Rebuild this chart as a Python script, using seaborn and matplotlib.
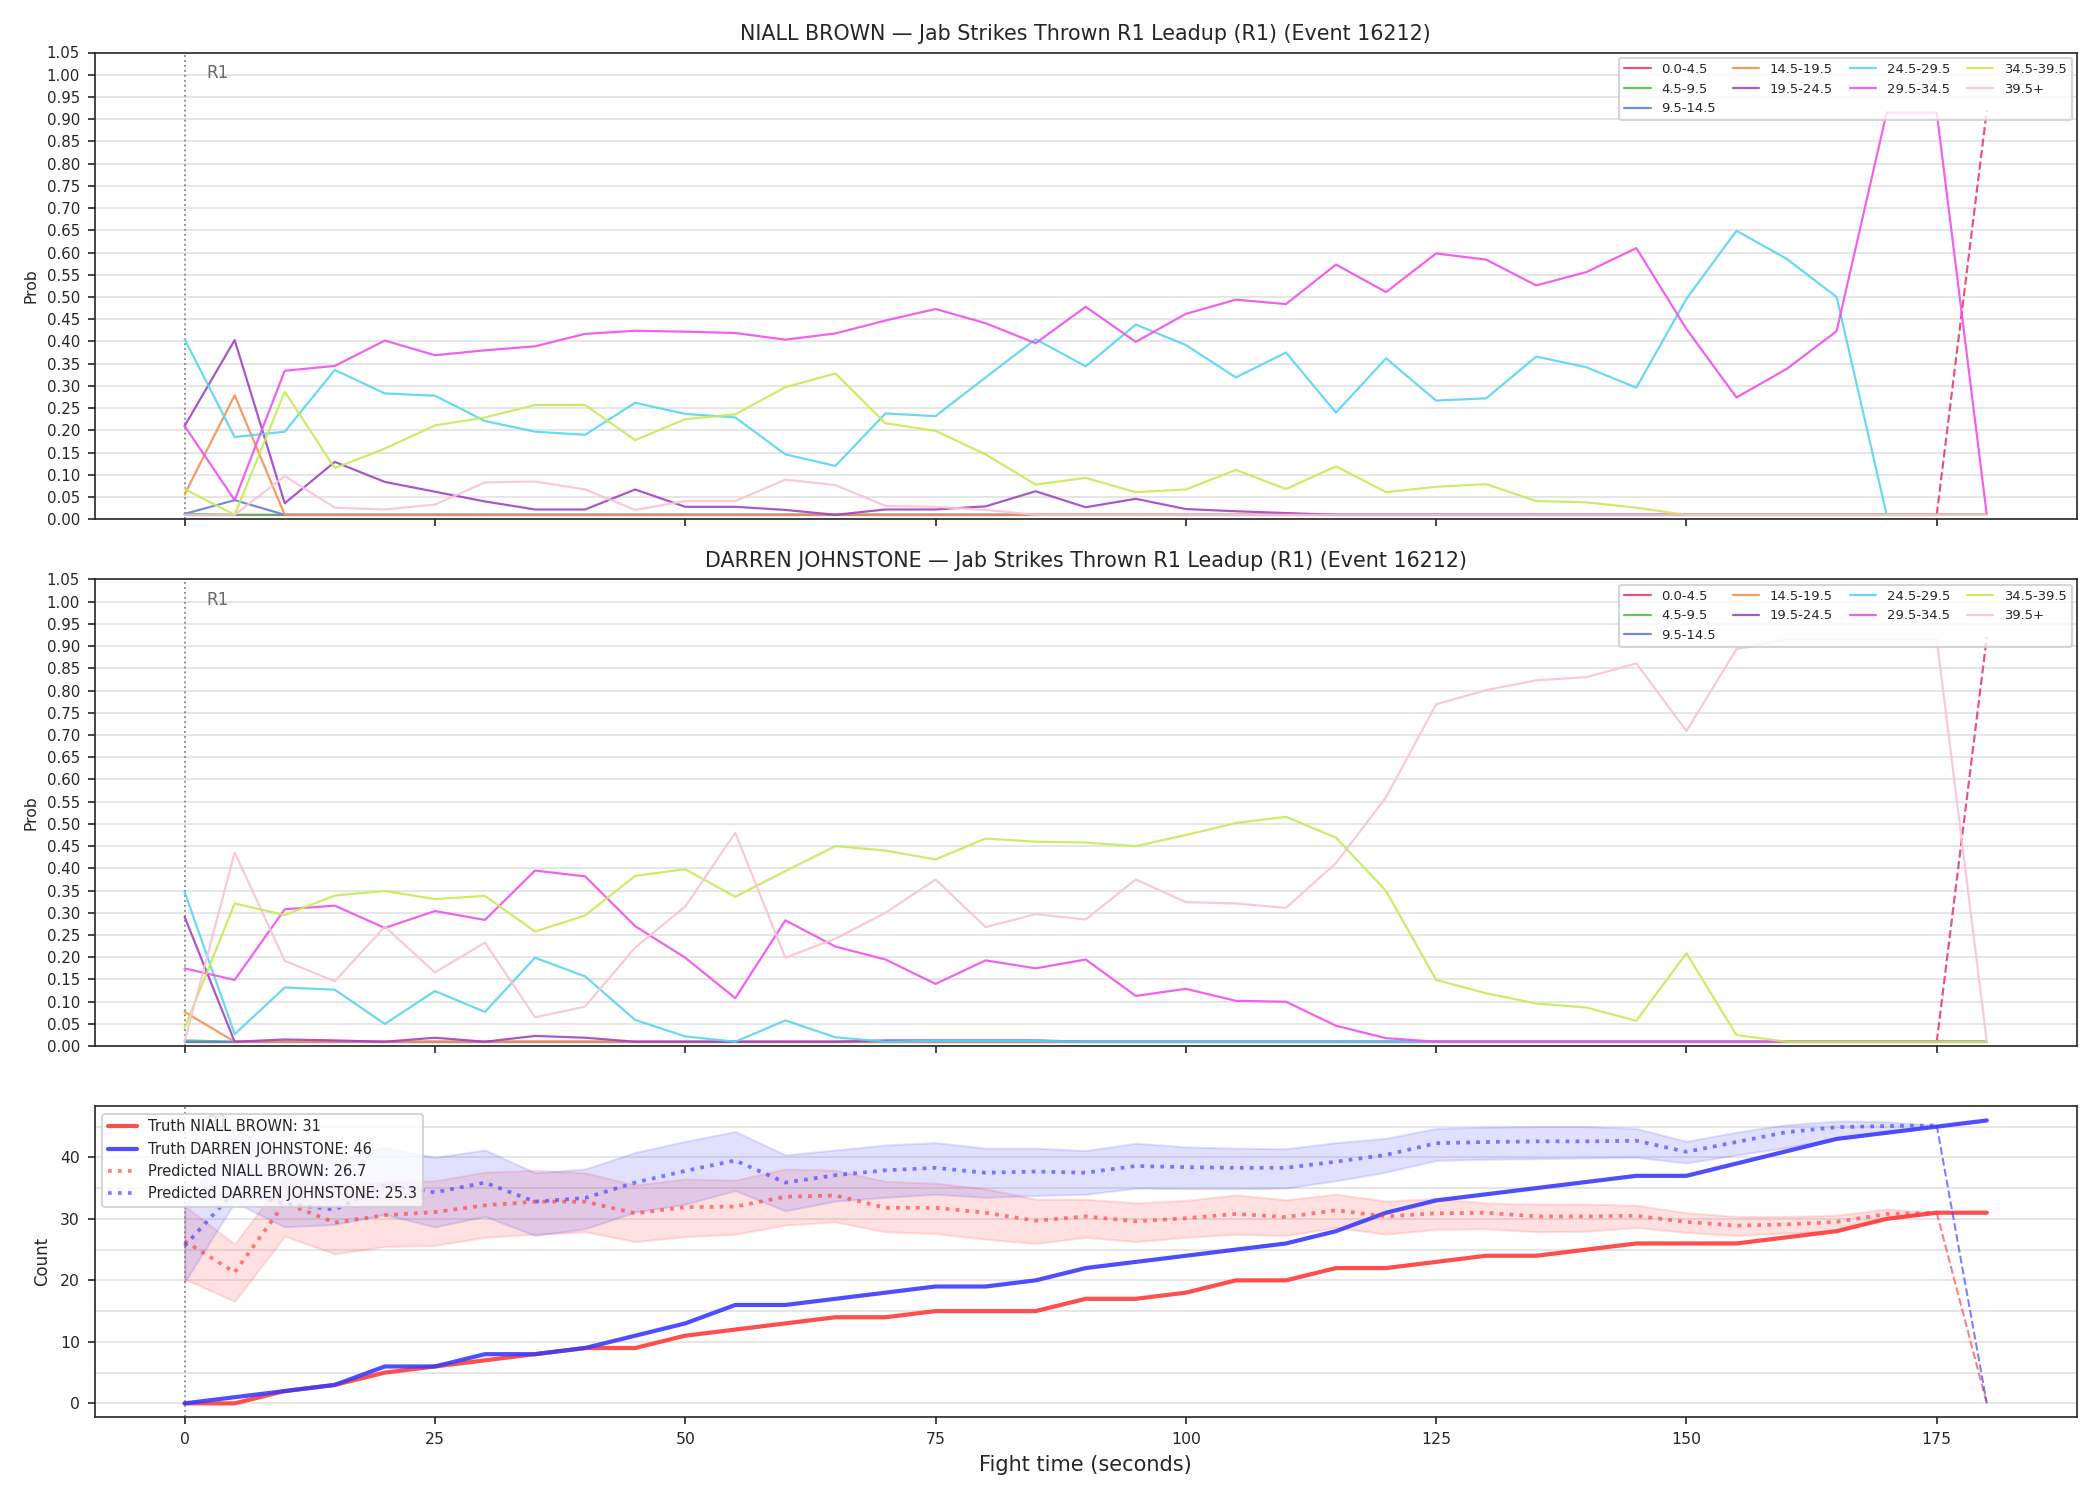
import numpy as np
import pandas as pd
import matplotlib
matplotlib.use("Agg")
import matplotlib.pyplot as plt
from matplotlib.ticker import MultipleLocator, FormatStrFormatter
import seaborn as sns

# ---------------- data ----------------
times = list(range(0, 185, 5))  # 0..180

bins = ["0.0-4.5", "4.5-9.5", "9.5-14.5", "14.5-19.5", "19.5-24.5",
        "24.5-29.5", "29.5-34.5", "34.5-39.5", "39.5+"]
bin_colors = ["#e8406a", "#55bb55", "#5f7fe0", "#f5914f", "#a142c2",
              "#55d6f2", "#f050ec", "#c6ec55", "#f9c3d6"]

F = 0.01
# NIALL BROWN probabilities
a_b0 = [F] * 36 + [0.92]
a_b1 = [0.012] + [F] * 36
a_b2 = [0.012, 0.043] + [F] * 35
a_b3 = [0.056, 0.279] + [F] * 35
a_b4 = [0.210, 0.403, 0.036, 0.129, 0.084, 0.062, 0.040, 0.022, 0.022, 0.067,
        0.028, 0.028, 0.021, 0.010, 0.022, 0.022, 0.029, 0.063, 0.027, 0.046,
        0.023, 0.018, 0.014] + [F] * 14
a_b5 = [0.405, 0.185, 0.197, 0.336, 0.283, 0.278, 0.221, 0.197, 0.190, 0.262,
        0.237, 0.229, 0.146, 0.120, 0.238, 0.232, 0.319, 0.405, 0.344, 0.438,
        0.392, 0.319, 0.375, 0.240, 0.362, 0.267, 0.272, 0.366, 0.342, 0.296,
        0.496, 0.649, 0.586, 0.500, 0.010, 0.010, 0.010]
a_b6 = [0.210, 0.043, 0.334, 0.345, 0.402, 0.369, 0.380, 0.389, 0.417, 0.424,
        0.422, 0.419, 0.404, 0.418, 0.447, 0.473, 0.441, 0.396, 0.478, 0.399,
        0.462, 0.494, 0.484, 0.573, 0.511, 0.598, 0.584, 0.526, 0.556, 0.610,
        0.428, 0.274, 0.338, 0.423, 0.915, 0.915, 0.010]
a_b7 = [0.068, 0.010, 0.287, 0.115, 0.159, 0.211, 0.229, 0.257, 0.257, 0.178,
        0.225, 0.236, 0.297, 0.328, 0.216, 0.199, 0.146, 0.078, 0.093, 0.061,
        0.067, 0.111, 0.068, 0.119, 0.061, 0.073, 0.079, 0.041, 0.038, 0.026] + [F] * 7
a_b8 = [0.010, 0.010, 0.097, 0.026, 0.022, 0.033, 0.083, 0.085, 0.067, 0.021,
        0.041, 0.041, 0.089, 0.077, 0.030, 0.028, 0.021] + [F] * 20

# DARREN JOHNSTONE probabilities
b_b0 = [F] * 36 + [0.92]
b_b1 = [0.013] + [F] * 36
b_b2 = [F] * 37
b_b3 = [0.077] + [F] * 36
b_b4 = [0.291, 0.010, 0.015, 0.013, 0.010, 0.019, 0.010, 0.023, 0.019, 0.010,
        0.010, 0.010, 0.010, 0.010, 0.013, 0.013, 0.013, 0.013] + [F] * 19
b_b5 = [0.347, 0.027, 0.132, 0.127, 0.050, 0.124, 0.077, 0.199, 0.157, 0.059,
        0.022, 0.010, 0.058, 0.020, 0.010, 0.012, 0.012, 0.012] + [F] * 19
b_b6 = [0.175, 0.149, 0.308, 0.316, 0.266, 0.304, 0.284, 0.395, 0.382, 0.270,
        0.199, 0.108, 0.283, 0.224, 0.195, 0.140, 0.193, 0.175, 0.195, 0.113,
        0.129, 0.102, 0.100, 0.046, 0.018] + [F] * 12
b_b7 = [0.041, 0.321, 0.295, 0.339, 0.349, 0.331, 0.338, 0.258, 0.294, 0.383,
        0.398, 0.336, 0.394, 0.450, 0.440, 0.420, 0.467, 0.460, 0.458, 0.450,
        0.475, 0.502, 0.516, 0.469, 0.349, 0.149, 0.119, 0.096, 0.087, 0.057,
        0.209, 0.025, 0.010, 0.010, 0.010, 0.010, 0.010]
b_b8 = [0.010, 0.436, 0.192, 0.146, 0.269, 0.166, 0.233, 0.065, 0.089, 0.222,
        0.314, 0.480, 0.199, 0.242, 0.300, 0.375, 0.268, 0.297, 0.285, 0.375,
        0.324, 0.321, 0.311, 0.412, 0.560, 0.769, 0.801, 0.823, 0.830, 0.861,
        0.709, 0.893, 0.915, 0.915, 0.915, 0.915, 0.010]

probs_a = [a_b0, a_b1, a_b2, a_b3, a_b4, a_b5, a_b6, a_b7, a_b8]
probs_b = [b_b0, b_b1, b_b2, b_b3, b_b4, b_b5, b_b6, b_b7, b_b8]

# counts
truth_a = [0, 0, 2, 3, 5, 6, 7, 8, 9, 9, 11, 12, 13, 14, 14, 15, 15, 15, 17, 17,
           18, 20, 20, 22, 22, 23, 24, 24, 25, 26, 26, 26, 27, 28, 30, 31, 31]
truth_b = [0, 1, 2, 3, 6, 6, 8, 8, 9, 11, 13, 16, 16, 17, 18, 19, 19, 20, 22, 23,
           24, 25, 26, 28, 31, 33, 34, 35, 36, 37, 37, 39, 41, 43, 44, 45, 46]
pred_a = [26.4, 21.3, 32.6, 29.4, 30.6, 31.1, 32.2, 32.8, 32.8, 30.9, 31.9, 32.0,
          33.6, 33.8, 31.8, 31.8, 31.0, 29.7, 30.4, 29.6, 30.1, 30.8, 30.3, 31.4,
          30.4, 30.9, 31.0, 30.4, 30.4, 30.5, 29.5, 28.9, 29.1, 29.5, 30.8, 31.0, 0.0]
pred_a_lo = [20.2, 16.6, 27.2, 24.3, 25.5, 25.7, 27.0, 27.5, 27.9, 26.3, 27.1, 27.5,
             29.0, 29.5, 27.9, 27.6, 26.7, 26.0, 27.0, 26.3, 27.0, 27.5, 27.3, 28.6,
             27.5, 28.3, 28.4, 27.9, 28.0, 28.6, 27.8, 27.3, 27.7, 28.0, 30.0, 31.0]
pred_a_hi = [32.1, 25.9, 36.8, 35.5, 36.0, 36.2, 37.6, 37.9, 37.5, 35.5, 36.5, 36.3,
             38.1, 37.9, 36.1, 35.8, 34.9, 33.2, 33.2, 32.6, 33.0, 33.9, 33.1, 34.0,
             32.9, 33.3, 32.6, 32.4, 32.4, 32.2, 31.0, 30.4, 30.4, 30.6, 31.6, 31.0]
pred_b = [25.6, 34.5, 32.5, 31.5, 35.5, 34.3, 35.9, 32.8, 33.4, 35.9, 37.8, 39.5,
          35.9, 37.1, 37.9, 38.3, 37.5, 37.7, 37.5, 38.6, 38.4, 38.3, 38.3, 39.3,
          40.4, 42.3, 42.5, 42.6, 42.6, 42.7, 40.9, 42.5, 44.1, 44.9, 45.1, 45.2, 0.0]
pred_b_lo = [19.7, 32.7, 28.7, 29.1, 30.7, 28.7, 30.4, 27.3, 28.4, 31.1, 32.4, 34.6,
             31.3, 32.9, 33.5, 34.0, 33.5, 33.8, 34.0, 35.0, 34.9, 34.9, 35.0, 36.2,
             37.6, 39.5, 39.7, 39.8, 39.9, 40.0, 39.1, 40.4, 41.6, 43.1, 44.1, 45.2]
pred_b_hi = [32.0, 44.6, 41.0, 39.5, 41.6, 40.0, 41.2, 37.5, 38.1, 40.8, 42.6, 44.2,
             40.4, 41.2, 42.0, 42.4, 41.5, 41.5, 41.1, 42.3, 41.7, 41.5, 41.4, 42.4,
             43.1, 44.7, 44.9, 45.0, 45.0, 44.7, 42.6, 44.1, 45.3, 45.9, 45.8, 45.2]

fighter_a = "NIALL BROWN"
fighter_b = "DARREN JOHNSTONE"
titles = [f"{fighter_a} \u2014 Jab Strikes Thrown R1 Leadup (R1) (Event 16212)",
          f"{fighter_b} \u2014 Jab Strikes Thrown R1 Leadup (R1) (Event 16212)"]
total_a, total_b = 31, 46
pred_total_a, pred_total_b = 26.7, 25.3

# ---------------- style ----------------
sns.set_style("ticks")
plt.rcParams["font.family"] = ["DejaVu Sans"]

fig, axes = plt.subplots(3, 1, figsize=(14, 10), dpi=150, sharex=True,
                         gridspec_kw={"height_ratios": [1.5, 1.5, 1.0]})
fig.subplots_adjust(left=0.045, right=0.989, top=0.965, bottom=0.055, hspace=0.145)

t = np.array(times)

def prob_panel(ax, probs, title):
    for i, (lab, col, vals) in enumerate(zip(bins, bin_colors, probs)):
        vals = np.array(vals)
        if i == 0:
            sns.lineplot(x=t[:-1], y=vals[:-1], ax=ax, color=col, linewidth=1.05,
                         alpha=0.9, label=lab, legend=False, zorder=2)
            sns.lineplot(x=t[-2:], y=vals[-2:], ax=ax, color=col, linewidth=1.05,
                         alpha=0.9, linestyle="--", legend=False, zorder=2)
        else:
            sns.lineplot(x=t, y=vals, ax=ax, color=col, linewidth=1.05,
                         alpha=0.9, label=lab, legend=False, zorder=2)
    ax.axvline(0, color="gray", linestyle=":", linewidth=0.9, alpha=0.9, zorder=1)
    ax.text(2.2, 0.975, "R1", transform=ax.get_xaxis_transform(), ha="left",
            va="top", fontsize=8, color="dimgray")
    ax.set_ylim(0, 1.05)
    ax.yaxis.set_major_locator(MultipleLocator(0.05))
    ax.yaxis.set_major_formatter(FormatStrFormatter("%.2f"))
    ax.grid(axis="y", color="#e2e2e2", linewidth=0.8)
    ax.set_axisbelow(True)
    ax.set_ylabel("Prob", fontsize=7.5)
    ax.set_xlabel("")
    ax.set_title(title, fontsize=9.9)
    ax.tick_params(axis="y", labelsize=7.2)
    hs, ls = ax.get_legend_handles_labels()
    ax.legend(hs, ls, ncol=4, loc="upper right", fontsize=6.3, framealpha=0.8,
              handlelength=2.0, columnspacing=1.3, borderaxespad=0.4)

prob_panel(axes[0], probs_a, titles[0])
prob_panel(axes[1], probs_b, titles[1])

# ---------------- counts panel ----------------
ax = axes[2]
red, blue = "#ff3b3b", "#3b3bff"
ta = t[:-1]
ax.fill_between(ta, pred_a_lo, pred_a_hi, color=red, alpha=0.15, zorder=1)
ax.fill_between(ta, pred_b_lo, pred_b_hi, color=blue, alpha=0.15, zorder=1)
sns.lineplot(x=t, y=truth_a, ax=ax, color=red, linewidth=2.0, alpha=0.9,
             label=f"Truth {fighter_a}: {total_a}", legend=False, zorder=3)
sns.lineplot(x=t, y=truth_b, ax=ax, color=blue, linewidth=2.0, alpha=0.9,
             label=f"Truth {fighter_b}: {total_b}", legend=False, zorder=3)
pa = np.array(pred_a)
pb = np.array(pred_b)
sns.lineplot(x=ta, y=pa[:-1], ax=ax, color=red, linewidth=1.8, alpha=0.65,
             linestyle=":", label=f"Predicted {fighter_a}: {pred_total_a}",
             legend=False, zorder=3)
sns.lineplot(x=ta, y=pb[:-1], ax=ax, color=blue, linewidth=1.8, alpha=0.65,
             linestyle=":", label=f"Predicted {fighter_b}: {pred_total_b}",
             legend=False, zorder=3)
sns.lineplot(x=t[-2:], y=pa[-2:], ax=ax, color=red, linewidth=1.0, alpha=0.65,
             linestyle="--", legend=False, zorder=3)
sns.lineplot(x=t[-2:], y=pb[-2:], ax=ax, color=blue, linewidth=1.0, alpha=0.65,
             linestyle="--", legend=False, zorder=3)
ax.axvline(0, color="gray", linestyle=":", linewidth=0.9, alpha=0.9, zorder=1)
ax.text(2.2, 0.975, "R1", transform=ax.get_xaxis_transform(), ha="left",
        va="top", fontsize=8, color="dimgray")
ax.yaxis.set_major_locator(MultipleLocator(10))
ax.yaxis.set_minor_locator(MultipleLocator(5))
ax.tick_params(axis="y", which="minor", length=0)
ax.grid(axis="y", which="both", color="#e2e2e2", linewidth=0.8)
ax.set_axisbelow(True)
ax.set_ylabel("Count", fontsize=8)
ax.set_xlabel("Fight time (seconds)", fontsize=10)
ax.tick_params(axis="both", labelsize=7.5)
hs, ls = ax.get_legend_handles_labels()
ax.legend(hs, ls, loc="upper left", fontsize=7.0, framealpha=0.8)

ax.xaxis.set_major_locator(MultipleLocator(25))
ax.set_xlim(-9, 189)
for a in axes[:2]:
    a.tick_params(axis="x", labelbottom=False)

fig.savefig("out.png", dpi=150)
